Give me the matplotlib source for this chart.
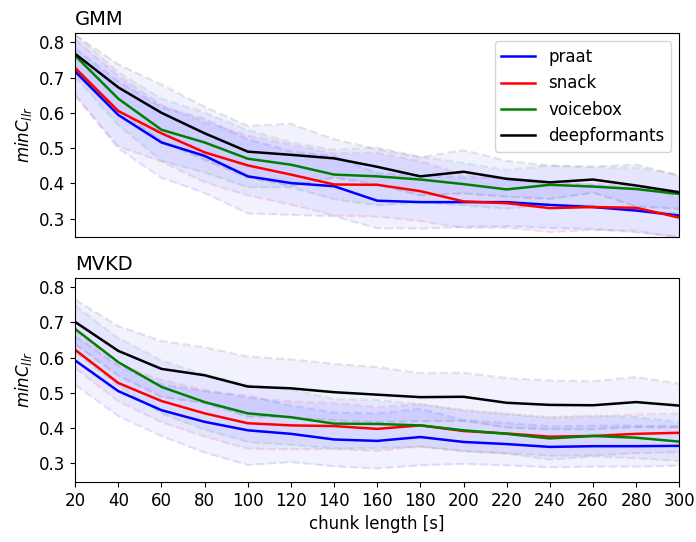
import numpy as np
import matplotlib
matplotlib.use("Agg")
import matplotlib.pyplot as plt

chunk = np.arange(20, 301, 20)
methods = ["praat", "snack", "voicebox", "deepformants"]
colors = ["blue", "red", "green", "black"]

# GMM: mean minCllr per chunk length
gmm_praat = [0.717, 0.594, 0.516, 0.478, 0.420, 0.401, 0.392, 0.351, 0.347, 0.347, 0.347, 0.339, 0.333, 0.323, 0.309]
gmm_snack = [0.727, 0.605, 0.542, 0.488, 0.451, 0.425, 0.397, 0.396, 0.378, 0.349, 0.344, 0.330, 0.333, 0.331, 0.303]
gmm_voicebox = [0.762, 0.640, 0.552, 0.516, 0.470, 0.453, 0.425, 0.420, 0.411, 0.398, 0.383, 0.396, 0.391, 0.384, 0.370]
gmm_deep = [0.767, 0.672, 0.600, 0.542, 0.490, 0.481, 0.471, 0.447, 0.420, 0.433, 0.413, 0.403, 0.411, 0.394, 0.375]

# GMM: std
gmm_praat_sd = [0.065, 0.095, 0.100, 0.105, 0.105, 0.090, 0.085, 0.078, 0.075, 0.070, 0.068, 0.065, 0.062, 0.062, 0.060]
gmm_snack_sd = [0.080, 0.100, 0.080, 0.085, 0.085, 0.085, 0.088, 0.090, 0.085, 0.075, 0.070, 0.068, 0.065, 0.065, 0.058]
gmm_voicebox_sd = [0.060, 0.075, 0.088, 0.085, 0.081, 0.064, 0.070, 0.082, 0.065, 0.060, 0.055, 0.055, 0.055, 0.060, 0.055]
gmm_deep_sd = [0.054, 0.065, 0.080, 0.075, 0.073, 0.088, 0.054, 0.050, 0.054, 0.061, 0.051, 0.047, 0.037, 0.059, 0.047]

# MVKD: mean minCllr per chunk length
mvkd_praat = [0.592, 0.505, 0.451, 0.418, 0.394, 0.384, 0.368, 0.364, 0.375, 0.361, 0.355, 0.347, 0.349, 0.349, 0.350]
mvkd_snack = [0.622, 0.528, 0.477, 0.442, 0.414, 0.408, 0.406, 0.398, 0.408, 0.392, 0.385, 0.376, 0.378, 0.384, 0.387]
mvkd_voicebox = [0.681, 0.587, 0.517, 0.474, 0.442, 0.431, 0.413, 0.412, 0.408, 0.394, 0.384, 0.371, 0.378, 0.373, 0.362]
mvkd_deep = [0.701, 0.619, 0.568, 0.550, 0.518, 0.513, 0.502, 0.495, 0.488, 0.489, 0.472, 0.466, 0.465, 0.474, 0.464]

# MVKD: std
mvkd_praat_sd = [0.069, 0.071, 0.073, 0.087, 0.098, 0.080, 0.076, 0.078, 0.080, 0.062, 0.060, 0.058, 0.058, 0.058, 0.056]
mvkd_snack_sd = [0.052, 0.052, 0.060, 0.066, 0.072, 0.068, 0.065, 0.062, 0.060, 0.058, 0.056, 0.054, 0.055, 0.055, 0.055]
mvkd_voicebox_sd = [0.067, 0.068, 0.075, 0.078, 0.081, 0.078, 0.070, 0.068, 0.060, 0.058, 0.056, 0.060, 0.058, 0.058, 0.055]
mvkd_deep_sd = [0.063, 0.070, 0.079, 0.079, 0.085, 0.082, 0.080, 0.078, 0.068, 0.068, 0.070, 0.069, 0.068, 0.071, 0.062]

gmm = [(gmm_praat, gmm_praat_sd), (gmm_snack, gmm_snack_sd),
       (gmm_voicebox, gmm_voicebox_sd), (gmm_deep, gmm_deep_sd)]
mvkd = [(mvkd_praat, mvkd_praat_sd), (mvkd_snack, mvkd_snack_sd),
        (mvkd_voicebox, mvkd_voicebox_sd), (mvkd_deep, mvkd_deep_sd)]

plt.rcParams["font.size"] = 12

fig, axes = plt.subplots(2, 1, figsize=(6.96, 5.42), dpi=100, sharex=True, sharey=True)
fig.subplots_adjust(left=0.108, right=0.976, top=0.939, bottom=0.111, hspace=0.2)


def draw(ax, data, title):
    for name, col, (m, s) in zip(methods, colors, data):
        m = np.array(m)
        s = np.array(s)
        ax.fill_between(chunk, m - s, m + s, color="blue", alpha=0.05, linewidth=0)
        ax.plot(chunk, m + s, "--", color=col, alpha=0.1, lw=1.6)
        ax.plot(chunk, m - s, "--", color=col, alpha=0.1, lw=1.6)
    for name, col, (m, s) in zip(methods, colors, data):
        ax.plot(chunk, m, color=col, lw=1.8, label=name)
    ax.set_title(title, loc="left", fontsize=14, pad=6)
    ax.set_ylabel(r"$minC_{llr}$")


draw(axes[0], gmm, "GMM")
draw(axes[1], mvkd, "MVKD")

axes[0].legend(loc="upper right", fontsize=12)
axes[0].tick_params(bottom=False, labelbottom=False)
axes[1].set_xlim(20, 300)
axes[1].set_xticks(chunk)
axes[1].set_ylim(0.248, 0.826)
axes[1].set_yticks([0.3, 0.4, 0.5, 0.6, 0.7, 0.8])
axes[1].set_xlabel("chunk length [s]")

fig.savefig("out.png")
